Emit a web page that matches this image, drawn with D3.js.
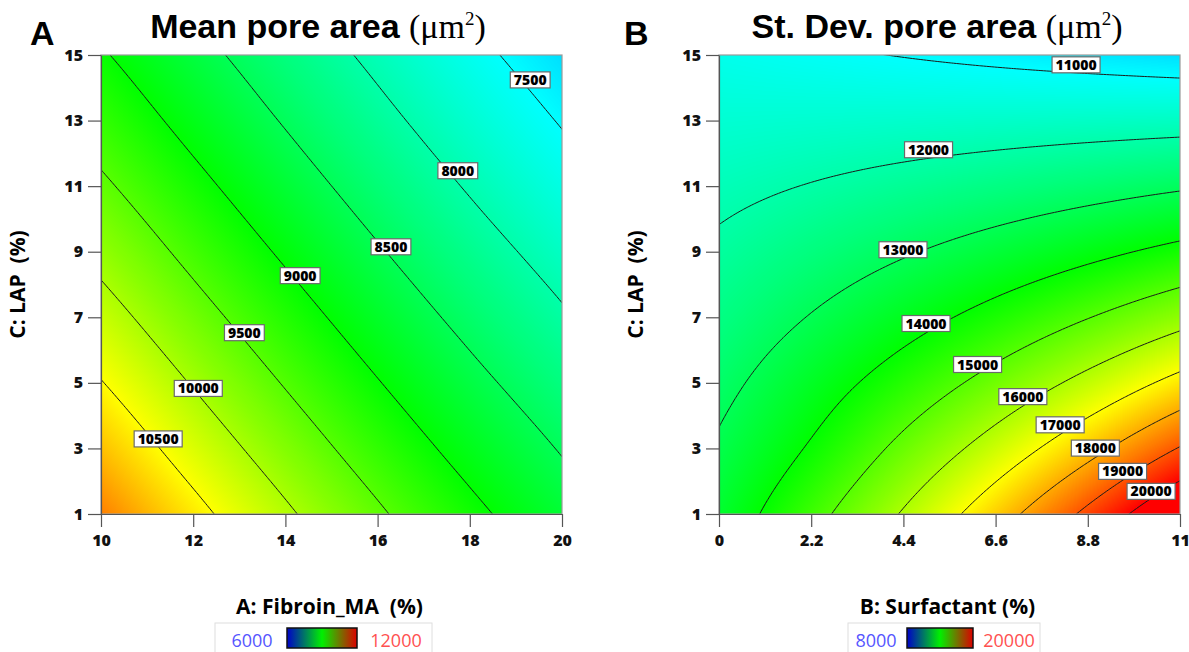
<!DOCTYPE html>
<html>
<head>
<meta charset="utf-8">
<script src="https://cdn.jsdelivr.net/npm/d3@7"></script>
<style>
  body { margin: 0; background: #fff; }
  svg { display: block; }
</style>
</head>
<body>
<svg id="chart" width="1189" height="652"></svg>
<script>
// ---- data ----
const fibroinTicks = [10, 12, 14, 16, 18, 20];
const surfactantTicks = [0, 2.2, 4.4, 6.6, 8.8, 11];
const lapTicks = [1, 3, 5, 7, 9, 11, 13, 15];

// mean pore area, rows = LAP 1..15, cols = Fibroin_MA 10..20
const meanArea = [
  [11250, 10633, 10069, 9559, 9103, 8700],
  [10874, 10293, 9763, 9282, 8852, 8472],
  [10518, 9972, 9472, 9019, 8613, 8253],
  [10182, 9668, 9198, 8770, 8386, 8045],
  [9867, 9383, 8939, 8535, 8171, 7846],
  [9571, 9116, 8697, 8314, 7967, 7657],
  [9295, 8866, 8470, 8106, 7775, 7477],
  [9040, 8635, 8259, 7913, 7596, 7308]
];
const meanLevels = [7500, 8000, 8500, 9000, 9500, 10000, 10500];
const meanLabels = [
  { v: 7500, x: 19.31, c: 14.24 },
  { v: 8000, x: 17.74, c: 11.47 },
  { v: 8500, x: 16.29, c: 9.15 },
  { v: 9000, x: 14.32, c: 8.27 },
  { v: 9500, x: 13.11, c: 6.53 },
  { v: 10000, x: 12.11, c: 4.83 },
  { v: 10500, x: 11.24, c: 3.29 }
];
const meanRange = [6000, 12000];

// st. dev. pore area, rows = LAP 1..15, cols = Surfactant 0..11
const sdArea = [
  [13454, 14707, 16077, 17574, 19211, 21000],
  [13110, 14087, 15224, 16406, 17680, 19052],
  [12774, 13570, 14417, 15315, 16270, 17284],
  [12447, 13036, 13652, 14297, 14973, 15681],
  [12129, 12522, 12928, 13347, 13779, 14226],
  [11819, 12028, 12242, 12460, 12681, 12906],
  [11516, 11554, 11593, 11631, 11670, 11709],
  [11222, 11099, 10978, 10858, 10739, 10622]
];
const sdLevels = [11000, 12000, 13000, 14000, 15000, 16000, 17000, 18000, 19000, 20000];
const sdLabels = [
  { v: 11000, x: 8.52, c: 14.7 },
  { v: 12000, x: 5.0, c: 12.11 },
  { v: 13000, x: 4.39, c: 9.06 },
  { v: 14000, x: 4.94, c: 6.81 },
  { v: 15000, x: 6.17, c: 5.56 },
  { v: 16000, x: 7.25, c: 4.58 },
  { v: 17000, x: 8.14, c: 3.72 },
  { v: 18000, x: 8.98, c: 3.01 },
  { v: 19000, x: 9.63, c: 2.30 },
  { v: 20000, x: 10.31, c: 1.69 }
];
const sdRange = [8000, 20000];

// ---- drawing ----
const svg = d3.select('#chart');
const plotTop = 55, plotBottom = 514;
const sans = '"Open Sans", "DejaVu Sans", sans-serif';

// catmull-rom patch over the grid (grid index space)
function cr(p0, p1, p2, p3, t) {
  return 0.5 * (2 * p1 + (-p0 + p2) * t + (2 * p0 - 5 * p1 + 4 * p2 - p3) * t * t + (-p0 + 3 * p1 - 3 * p2 + p3) * t * t * t);
}
function sampler(grid) {
  const ny = grid.length, nx = grid[0].length;
  const g = (i, j) => {
    if (i < 0) return 2 * g(0, j) - g(1, j);
    if (i > nx - 1) return 2 * g(nx - 1, j) - g(nx - 2, j);
    if (j < 0) return 2 * g(i, 0) - g(i, 1);
    if (j > ny - 1) return 2 * g(i, ny - 1) - g(i, ny - 2);
    return grid[j][i];
  };
  return (gx, gy) => {
    const i = Math.max(0, Math.min(nx - 2, Math.floor(gx)));
    const j = Math.max(0, Math.min(ny - 2, Math.floor(gy)));
    const tx = gx - i, ty = gy - j;
    const r = [-1, 0, 1, 2].map(m => cr(g(i - 1, j + m), g(i, j + m), g(i + 1, j + m), g(i + 2, j + m), tx));
    return cr(r[0], r[1], r[2], r[3], ty);
  };
}

function drawPanel(p) {
  const x = d3.scaleLinear().domain(d3.extent(p.xTicks)).range([p.left, p.right]);
  const y = d3.scaleLinear().domain(d3.extent(lapTicks)).range([plotBottom, plotTop]);
  const gxi = d3.scaleLinear().domain(x.domain()).range([0, p.xTicks.length - 1]);
  const gyi = d3.scaleLinear().domain(y.domain()).range([0, lapTicks.length - 1]);
  const s = sampler(p.grid);
  const field = (xv, yv) => s(gxi(xv), gyi(yv));

  const span = p.range[1] - p.range[0];
  const color = d3.scaleLinear()
    .domain([0, 0.25, 0.5, 0.75, 1].map(t => p.range[0] + t * span))
    .range(['#0000ff', '#00ffff', '#00ff00', '#ffff00', '#ff0000'])
    .clamp(true);
  const lut = d3.range(513).map(k => d3.rgb(color(p.range[0] + k / 512 * span)));

  // filled surface
  const w = Math.round(p.right - p.left), h = plotBottom - plotTop;
  const canvas = document.createElement('canvas');
  canvas.width = w; canvas.height = h;
  const ctx = canvas.getContext('2d');
  const img = ctx.createImageData(w, h);
  for (let py = 0; py < h; py++) {
    const yv = y.invert(plotTop + py + 0.5);
    for (let px = 0; px < w; px++) {
      const v = field(x.invert(p.left + px + 0.5), yv);
      const k = Math.max(0, Math.min(512, Math.round((v - p.range[0]) / span * 512)));
      const c = lut[k], o = (py * w + px) * 4;
      img.data[o] = c.r; img.data[o + 1] = c.g; img.data[o + 2] = c.b; img.data[o + 3] = 255;
    }
  }
  ctx.putImageData(img, 0, 0);
  svg.append('image')
    .attr('x', p.left).attr('y', plotTop).attr('width', w).attr('height', h)
    .attr('preserveAspectRatio', 'none')
    .attr('href', canvas.toDataURL());

  // contour lines
  const n = 180, ext = 0.03;
  const [xa, xb] = x.domain(), [ya, yb] = y.domain();
  const frac = i => -ext + i * (1 + 2 * ext) / (n - 1);
  const values = new Float64Array(n * n);
  for (let j = 0; j < n; j++)
    for (let i = 0; i < n; i++)
      values[j * n + i] = field(xa + frac(i) * (xb - xa), ya + frac(j) * (yb - ya));
  const contours = d3.contours().size([n, n]).thresholds(p.levels)(values);
  const proj = d3.geoTransform({
    point(cx, cy) {
      this.stream.point(x(xa + frac(cx - 0.5) * (xb - xa)), y(ya + frac(cy - 0.5) * (yb - ya)));
    }
  });
  const clipId = 'clip-' + p.id;
  svg.append('clipPath').attr('id', clipId)
    .append('rect').attr('x', p.left).attr('y', plotTop).attr('width', w).attr('height', h);
  svg.append('g').attr('clip-path', `url(#${clipId})`)
    .selectAll('path')
    .data(contours)
    .join('path')
      .attr('d', d3.geoPath(proj))
      .attr('fill', 'none')
      .attr('stroke', '#1a1a1a')
      .attr('stroke-width', 1);

  // frame
  svg.append('rect')
    .attr('x', p.left).attr('y', plotTop).attr('width', w).attr('height', h)
    .attr('fill', 'none').attr('stroke', '#9a9a9a').attr('stroke-width', 1.2);

  // contour labels
  const lab = svg.append('g').selectAll('g')
    .data(p.labels)
    .join('g')
      .attr('transform', d => `translate(${x(d.x)},${y(d.c)})`);
  lab.append('rect')
    .attr('fill', '#fff').attr('stroke', '#6a6a6a').attr('stroke-width', 1.2);
  lab.append('text')
    .attr('text-anchor', 'middle').attr('dy', '0.36em')
    .style('font-family', sans).style('font-weight', 800).style('font-size', '14px')
    .attr('fill', '#000')
    .text(d => d.v);
  lab.each(function () {
    const tw = d3.select(this).select('text').node().getComputedTextLength();
    d3.select(this).select('rect')
      .attr('x', -tw / 2 - 3.5).attr('y', -8).attr('width', tw + 7).attr('height', 16);
  });

  // axes
  const styleAxis = g => {
    g.selectAll('.domain').attr('stroke', '#555').attr('stroke-width', 1.2);
    g.selectAll('.tick line').attr('stroke', '#555').attr('stroke-width', 1.2);
    g.selectAll('.tick text')
      .attr('fill', '#111')
      .style('font-family', sans).style('font-weight', 800).style('font-size', '16px');
  };
  svg.append('g')
    .attr('transform', `translate(0,${plotBottom})`)
    .call(d3.axisBottom(x).tickValues(p.xTicks).tickSize(13).tickSizeOuter(0).tickPadding(8).tickFormat(d => String(d)))
    .call(styleAxis);
  svg.append('g')
    .attr('transform', `translate(${p.left},0)`)
    .call(d3.axisLeft(y).tickValues(lapTicks).tickSize(13).tickSizeOuter(0).tickPadding(5).tickFormat(d => String(d)))
    .call(styleAxis);

  // axis titles
  svg.append('text')
    .attr('x', (p.left + p.right) / 2 - 2).attr('y', 614)
    .attr('text-anchor', 'middle')
    .style('white-space', 'pre')
    .style('font-family', sans).style('font-weight', 700).style('font-size', '21px')
    .attr('fill', '#000')
    .text(p.xTitle);
  svg.append('text')
    .attr('transform', `translate(${p.left - 76},${(plotTop + plotBottom) / 2}) rotate(-90)`)
    .attr('text-anchor', 'middle')
    .style('white-space', 'pre')
    .style('font-family', sans).style('font-weight', 700).style('font-size', '21px')
    .attr('fill', '#000')
    .text('C: LAP  (%)');

  // panel letter + title
  svg.append('text')
    .attr('x', p.letterX).attr('y', 45)
    .style('font-family', '"Liberation Sans", Arial, sans-serif').style('font-weight', 700).style('font-size', '34px')
    .text(p.letter);
  const t = svg.append('text')
    .attr('x', p.titleX).attr('y', 38).attr('text-anchor', 'middle')
    .style('font-family', '"Liberation Sans", Arial, sans-serif').style('font-weight', 700).style('font-size', '34px');
  t.append('tspan').text(p.title + ' ');
  const serif = tsp => tsp.style('font-family', '"Liberation Serif", "Times New Roman", serif').style('font-weight', 400);
  t.append('tspan').call(serif).text('(\u03bcm');
  t.append('tspan').call(serif).attr('dy', -13).style('font-size', '19px').text('2');
  t.append('tspan').call(serif).attr('dy', 13).text(')');

  // colour legend
  const L = p.legend;
  svg.append('rect')
    .attr('x', L.box[0]).attr('y', 623).attr('width', L.box[1] - L.box[0]).attr('height', 40)
    .attr('fill', '#fff').attr('stroke', '#dedede').attr('stroke-width', 1);
  const gid = 'grad-' + p.id;
  const grad = svg.append('linearGradient').attr('id', gid);
  [['0%', '#0000c8'], ['50%', '#00f000'], ['100%', '#dd0000']].forEach(([o, c]) =>
    grad.append('stop').attr('offset', o).attr('stop-color', c));
  svg.append('rect')
    .attr('x', L.bar[0]).attr('y', 628).attr('width', L.bar[1] - L.bar[0]).attr('height', 20)
    .attr('fill', `url(#${gid})`).attr('stroke', '#111').attr('stroke-width', 1.5);
  svg.append('text')
    .attr('x', L.lo).attr('y', 647).attr('text-anchor', 'middle')
    .style('font-family', sans).style('font-size', '18px').attr('fill', '#5555ff')
    .text(p.range[0]);
  svg.append('text')
    .attr('x', L.hi).attr('y', 647).attr('text-anchor', 'middle')
    .style('font-family', sans).style('font-size', '18px').attr('fill', '#ff5050')
    .text(p.range[1]);
}

drawPanel({
  id: 'a', left: 101, right: 562,
  xTicks: fibroinTicks, grid: meanArea, levels: meanLevels, labels: meanLabels, range: meanRange,
  xTitle: 'A: Fibroin_MA  (%)', letter: 'A', letterX: 30, title: 'Mean pore area', titleX: 318,
  legend: { box: [215, 432], bar: [287, 357], lo: 252, hi: 396 }
});
drawPanel({
  id: 'b', left: 719, right: 1180,
  xTicks: surfactantTicks, grid: sdArea, levels: sdLevels, labels: sdLabels, range: sdRange,
  xTitle: 'B: Surfactant (%)', letter: 'B', letterX: 624, title: 'St. Dev. pore area', titleX: 937,
  legend: { box: [848, 1040], bar: [907, 973], lo: 876, hi: 1009 }
});
</script>
</body>
</html>
